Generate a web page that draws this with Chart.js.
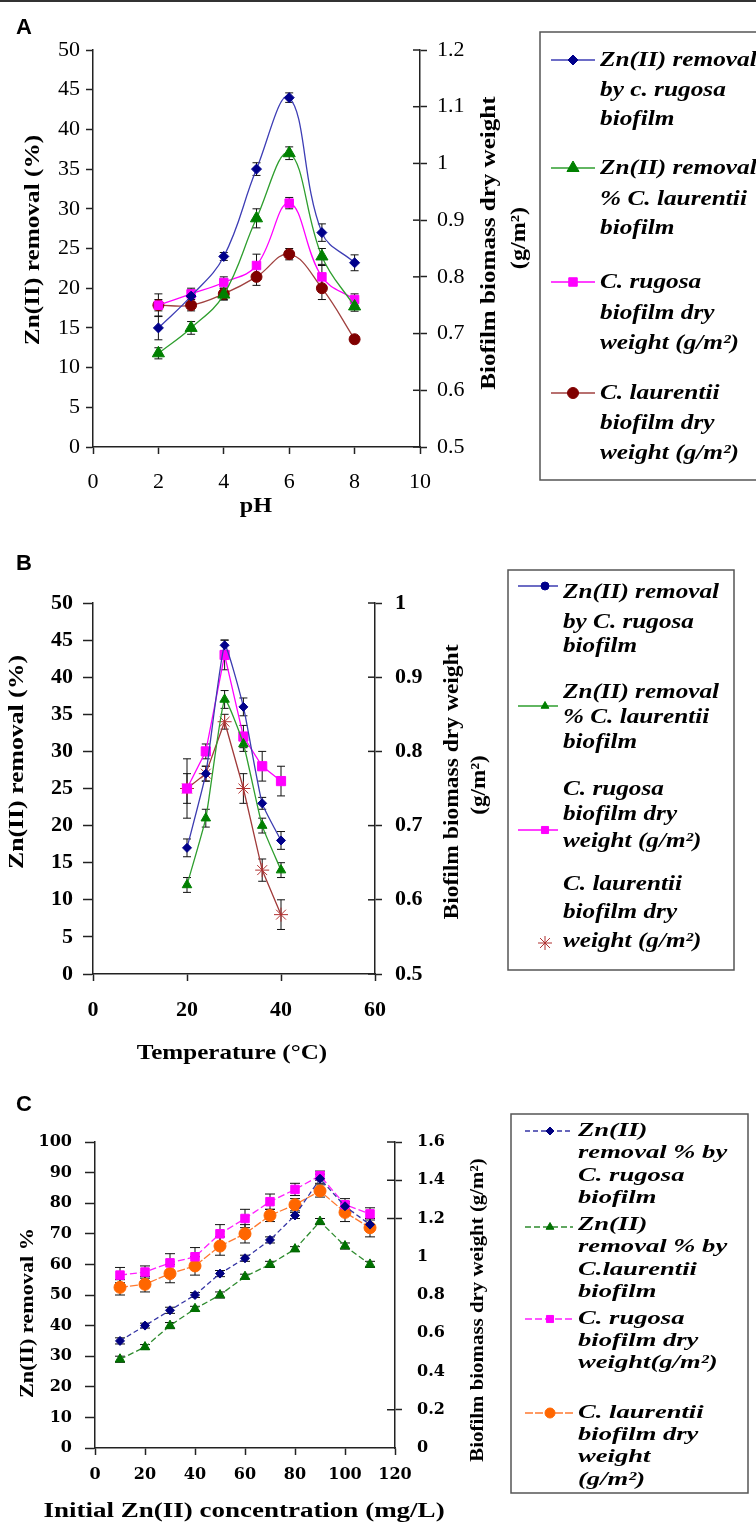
<!DOCTYPE html>
<html>
<head>
<meta charset="utf-8">
<script src="https://cdn.jsdelivr.net/npm/chart.js@4.4.0/dist/chart.umd.min.js"></script>
<style>
  html, body { margin: 0; padding: 0; background: #fff; }
  body { width: 756px; height: 1523px; position: relative; overflow: hidden; }
  #topline { position: absolute; left: 0; top: 0; width: 756px; height: 2px; background: #333; }
  .panel { position: absolute; left: 0; width: 756px; }
</style>
</head>
<body>
<div id="topline"></div>
<div class="panel" style="top:0"><canvas id="chartA" width="756" height="530"></canvas></div>
<div class="panel" style="top:530px"><canvas id="chartB" width="756" height="550"></canvas></div>
<div class="panel" style="top:1080px"><canvas id="chartC" width="756" height="443"></canvas></div>
<script>
// ---- Panel A : pH ----
const phValues = [2, 3, 4, 5, 6, 7, 8];
const phRugosaRemoval = [15, 19, 24, 35, 44, 27, 23.2];
const phRugosaRemovalErr = [1.5, 0.8, 0.5, 0.8, 0.6, 1.1, 1];
const phLaurentiiRemoval = [11.8, 15, 19.2, 28.8, 37, 24, 17.7];
const phLaurentiiRemovalErr = [0.7, 0.8, 0.7, 1.2, 0.8, 1, 0.6];
const phRugosaWeight = [0.75, 0.77, 0.79, 0.82, 0.93, 0.80, 0.76];
const phRugosaWeightErr = [0.01, 0.01, 0.01, 0.02, 0.01, 0.02, 0.01];
const phLaurentiiWeight = [0.75, 0.75, 0.77, 0.80, 0.84, 0.78, 0.69];
const phLaurentiiWeightErr = [0.02, 0.01, 0.01, 0.015, 0.01, 0.02, 0.005];
const phTicks = [0, 2, 4, 6, 8, 10];
const removalTicksA = [0, 5, 10, 15, 20, 25, 30, 35, 40, 45, 50];
const weightTicksA = [0.5, 0.6, 0.7, 0.8, 0.9, 1, 1.1, 1.2];
const legendA = [
  ['Zn(II) removal', 'by c. rugosa', 'biofilm'],
  ['Zn(II) removal', '% C. laurentii', 'biofilm'],
  ['C. rugosa', 'biofilm dry', 'weight (g/m²)'],
  ['C. laurentii', 'biofilm dry', 'weight (g/m²)']
];

// ---- Panel B : temperature ----
const tempValues = [20, 24, 28, 32, 36, 40];
const tempRugosaRemoval = [17, 27, 44.3, 36, 23, 18];
const tempRugosaRemovalErr = [1.2, 1, 0.7, 1.2, 0.8, 1.2];
const tempLaurentiiRemoval = [12, 21, 37, 31, 20, 14];
const tempLaurentiiRemovalErr = [1, 1.2, 1.2, 1, 1, 1];
const tempRugosaWeight = [0.75, 0.80, 0.93, 0.82, 0.78, 0.76];
const tempRugosaWeightErr = [0.04, 0.01, 0.02, 0.015, 0.02, 0.02];
const tempLaurentiiWeight = [0.75, 0.77, 0.84, 0.75, 0.64, 0.58];
const tempLaurentiiWeightErr = [0.02, 0.01, 0.01, 0.02, 0.015, 0.02];
const tempTicks = [0, 20, 40, 60];
const removalTicksB = [0, 5, 10, 15, 20, 25, 30, 35, 40, 45, 50];
const weightTicksB = [0.5, 0.6, 0.7, 0.8, 0.9, 1];
const legendB = [
  ['Zn(II) removal', 'by C. rugosa', 'biofilm'],
  ['Zn(II) removal', '% C. laurentii', 'biofilm'],
  ['C. rugosa', 'biofilm dry', 'weight (g/m²)'],
  ['C. laurentii', 'biofilm dry', 'weight (g/m²)']
];

// ---- Panel C : initial Zn(II) concentration ----
const concValues = [10, 20, 30, 40, 50, 60, 70, 80, 90, 100, 110];
const concRugosaRemoval = [35, 40, 45, 50, 57, 62, 68, 76, 88, 79, 73];
const concRugosaRemovalErr = [1, 0.8, 1, 0.8, 1, 1, 1, 1, 1.5, 1.5, 2];
const concLaurentiiRemoval = [29, 33, 40, 45.5, 50, 56, 60, 65, 74, 66, 60];
const concLaurentiiRemovalErr = [1, 0.8, 1, 0.8, 1, 0.8, 1, 0.8, 1, 1, 1];
const concRugosaWeight = [0.904, 0.92, 0.968, 1.0, 1.12, 1.2, 1.288, 1.352, 1.424, 1.272, 1.224];
const concRugosaWeightErr = [0.04, 0.032, 0.048, 0.048, 0.048, 0.048, 0.04, 0.032, 0.024, 0.032, 0.032];
const concLaurentiiWeight = [0.84, 0.856, 0.912, 0.952, 1.056, 1.12, 1.216, 1.272, 1.344, 1.232, 1.152];
const concLaurentiiWeightErr = [0.04, 0.04, 0.048, 0.048, 0.048, 0.048, 0.032, 0.032, 0.032, 0.048, 0.048];
const concTicks = [0, 20, 40, 60, 80, 100, 120];
const removalTicksC = [0, 10, 20, 30, 40, 50, 60, 70, 80, 90, 100];
const weightTicksC = [0, 0.2, 0.4, 0.6, 0.8, 1, 1.2, 1.4, 1.6];
const weightTickMarksC = [0.2, 1.2, 1.4, 1.6];   // only these carry a tick mark in the original
const legendC = [
  ['Zn(II)', 'removal % by', 'C. rugosa', 'biofilm'],
  ['Zn(II)', 'removal % by', 'C.laurentii', 'biofilm'],
  ['C. rugosa', 'biofilm dry', 'weight(g/m²)'],
  ['C. laurentii', 'biofilm dry', 'weight', '(g/m²)']
];

const serif = '"Liberation Serif", "Times New Roman", serif';
const axisColor = '#222';

// error bars drawn through the y scales
const errorBars = {
  id: 'errorBars',
  beforeDatasetsDraw(chart, args, o) {
    const ctx = chart.ctx;
    const cap = o.cap || 4;
    chart.data.datasets.forEach((ds, i) => {
      if (!ds.errors) return;
      const meta = chart.getDatasetMeta(i);
      const ys = chart.scales[ds.yAxisID];
      ctx.save();
      ctx.strokeStyle = '#111';
      ctx.lineWidth = 1;
      meta.data.forEach((pt, j) => {
        const e = ds.errors[j];
        if (!e) return;
        const v = ds.data[j].y;
        const top = ys.getPixelForValue(v + e);
        const bot = ys.getPixelForValue(v - e);
        ctx.beginPath();
        ctx.moveTo(pt.x, top); ctx.lineTo(pt.x, bot);
        ctx.moveTo(pt.x - cap, top); ctx.lineTo(pt.x + cap, top);
        ctx.moveTo(pt.x - cap, bot); ctx.lineTo(pt.x + cap, bot);
        ctx.stroke();
      });
      ctx.restore();
    });
  }
};

// right-hand axis tick marks cross the axis line in the original
const innerTicks = {
  id: 'innerTicks',
  afterDraw(chart, args, o) {
    const s = chart.scales.y1;
    if (!s || !o.length) return;
    const ctx = chart.ctx;
    ctx.save();
    ctx.strokeStyle = axisColor;
    ctx.lineWidth = 1.5;
    s.ticks.forEach(t => {
      if (o.only && !o.only.includes(Math.round(t.value * 100) / 100)) return;
      const y = s.getPixelForValue(t.value);
      ctx.beginPath();
      ctx.moveTo(s.left - o.length, y);
      ctx.lineTo(s.left, y);
      ctx.stroke();
    });
    ctx.restore();
  }
};

function drawText(ctx, text, x, y, font, sx, rot, align) {
  ctx.save();
  ctx.translate(x, y);
  if (rot) ctx.rotate(rot);
  ctx.scale(sx || 1, 1);
  ctx.font = font;
  ctx.fillStyle = '#000';
  ctx.textAlign = align || 'center';
  ctx.textBaseline = 'middle';
  ctx.fillText(text, 0, 0);
  ctx.restore();
}

// panel letter, axis titles and the boxed legend
const decor = {
  id: 'decor',
  afterDraw(chart, args, o) {
    const ctx = chart.ctx;
    (o.texts || []).forEach(t => drawText(ctx, t.text, t.x, t.y, t.font, t.sx, t.rot, t.align));
    const lg = o.legend;
    if (!lg) return;
    ctx.save();
    ctx.strokeStyle = '#555';
    ctx.lineWidth = 1.5;
    ctx.strokeRect(lg.box[0], lg.box[1], lg.box[2], lg.box[3]);
    ctx.restore();
    lg.items.forEach(it => {
      const ds = chart.data.datasets[it.ds];
      ctx.save();
      if (!it.noLine) {
        ctx.strokeStyle = ds.borderColor;
        ctx.lineWidth = ds.borderWidth;
        ctx.setLineDash(ds.borderDash || []);
        ctx.beginPath();
        ctx.moveTo(lg.x0, it.y);
        ctx.lineTo(lg.x1, it.y);
        ctx.stroke();
        ctx.setLineDash([]);
      }
      ctx.fillStyle = ds.pointBackgroundColor;
      ctx.strokeStyle = ds.pointBorderColor;
      ctx.lineWidth = 1;
      Chart.helpers.drawPoint(ctx, {
        pointStyle: it.style || ds.pointStyle,
        radius: it.r || ds.pointRadius,
        rotation: 0,
        borderWidth: 1
      }, it.mx || lg.mx, it.y);
      ctx.restore();
      ds.legendLines.forEach((line, k) => drawText(ctx, line, lg.textX, it.ty[k], lg.font, lg.sx, 0, 'left'));
    });
  }
};

function fmt(v) { return String(Math.round(v * 100) / 100); }

function axis(position, arr, o) {
  return {
    type: 'linear',
    position: position,
    min: arr[0],
    max: arr[arr.length - 1],
    afterBuildTicks: s => { s.ticks = arr.map(v => ({ value: v })); },
    afterFit: s => { if (position === 'bottom') s.height = o.size; else s.width = o.size; },
    border: { display: true, color: axisColor, width: 1.5 },
    grid: {
      drawOnChartArea: false, drawTicks: true, tickLength: o.tick, tickWidth: 1.5,
      tickColor: c => (!o.marks || (c.tick && o.marks.includes(Math.round(c.tick.value * 100) / 100))) ? axisColor : 'rgba(0,0,0,0)'
    },
    ticks: { color: '#000', padding: o.pad, font: o.font, callback: v => fmt(v), maxRotation: 0, autoSkip: false }
  };
}

function series(label, xs, ys, errs, axisId, legendLines, style) {
  return Object.assign({
    label: label,
    data: xs.map((x, i) => ({ x: x, y: ys[i] })),
    errors: errs,
    yAxisID: axisId,
    legendLines: legendLines,
    borderWidth: 1.3,
    pointBorderWidth: 1,
    fill: false
  }, style);
}

function baseOptions(padding, scales, decorOpts, cap, inner) {
  return {
    responsive: false,
    animation: false,
    layout: { padding: padding },
    scales: scales,
    plugins: {
      legend: { display: false },
      tooltip: { enabled: false },
      decor: decorOpts,
      errorBars: { cap: cap },
      innerTicks: inner
    }
  };
}

// ---------- Chart A ----------
const tickFontA = { family: serif, size: 22 };
new Chart(document.getElementById('chartA'), {
  type: 'line',
  data: {
    datasets: [
      series('Zn(II) removal by C. rugosa biofilm', phValues, phRugosaRemoval, phRugosaRemovalErr, 'y', legendA[0],
        { borderColor: '#3d3db5', pointBackgroundColor: '#00008b', pointBorderColor: '#00008b', pointStyle: 'rectRot', pointRadius: 5, tension: 0.4 }),
      series('Zn(II) removal % C. laurentii biofilm', phValues, phLaurentiiRemoval, phLaurentiiRemovalErr, 'y', legendA[1],
        { borderColor: '#2e9e2e', pointBackgroundColor: '#008000', pointBorderColor: '#008000', pointStyle: 'triangle', pointRadius: 7, tension: 0.4 }),
      series('C. rugosa biofilm dry weight', phValues, phRugosaWeight, phRugosaWeightErr, 'y1', legendA[2],
        { borderColor: '#ff00ff', pointBackgroundColor: '#ff00ff', pointBorderColor: '#ff00ff', pointStyle: 'rect', pointRadius: 6, tension: 0.4 }),
      series('C. laurentii biofilm dry weight', phValues, phLaurentiiWeight, phLaurentiiWeightErr, 'y1', legendA[3],
        { borderColor: '#a0413f', pointBackgroundColor: '#800000', pointBorderColor: '#800000', pointStyle: 'circle', pointRadius: 5.5, tension: 0.4 })
    ]
  },
  options: baseOptions(
    { top: 50, right: 276, bottom: 0, left: 0 },
    {
      x: axis('bottom', phTicks, { size: 83, tick: 7, pad: 15, font: tickFontA }),
      y: axis('left', removalTicksA, { size: 93, tick: 7, pad: 6, font: tickFontA }),
      y1: axis('right', weightTicksA, { size: 60, tick: 7, pad: 10, font: tickFontA })
    },
    {
      texts: [
        { text: 'A', x: 24, y: 28, font: 'bold 22px "Liberation Sans", Arial, sans-serif' },
        { text: 'Zn(II) removal (%)', x: 33, y: 240, rot: -Math.PI / 2, font: 'bold 22px ' + serif, sx: 1.15 },
        { text: 'pH', x: 256, y: 506, font: 'bold 22px ' + serif, sx: 1.1 },
        { text: 'Biofilm biomass dry weight', x: 489, y: 243, rot: -Math.PI / 2, font: 'bold 22px ' + serif, sx: 1.14 },
        { text: '(g/m²)', x: 519, y: 238, rot: -Math.PI / 2, font: 'bold 22px ' + serif, sx: 1.1 }
      ],
      legend: {
        box: [540, 32, 240, 448], x0: 551, x1: 595, mx: 573, textX: 600,
        font: 'italic bold 22px ' + serif, sx: 1.15,
        items: [
          { ds: 0, y: 60, ty: [60, 90, 119] },
          { ds: 1, y: 168, ty: [168, 199, 228] },
          { ds: 2, y: 282, ty: [282, 313, 343] },
          { ds: 3, y: 393, ty: [393, 423, 453] }
        ]
      }
    }, 4, { length: 7 }),
  plugins: [errorBars, innerTicks, decor]
});

// ---------- Chart B ----------
const tickFontB = { family: serif, size: 22, weight: 'bold' };
new Chart(document.getElementById('chartB'), {
  type: 'line',
  data: {
    datasets: [
      series('Zn(II) removal by C. rugosa biofilm', tempValues, tempRugosaRemoval, tempRugosaRemovalErr, 'y', legendB[0],
        { borderColor: '#3b3bb0', pointBackgroundColor: '#00008b', pointBorderColor: '#00008b', pointStyle: 'rectRot', pointRadius: 4.5, tension: 0.15 }),
      series('Zn(II) removal % C. laurentii biofilm', tempValues, tempLaurentiiRemoval, tempLaurentiiRemovalErr, 'y', legendB[1],
        { borderColor: '#2e9e2e', pointBackgroundColor: '#008000', pointBorderColor: '#008000', pointStyle: 'triangle', pointRadius: 5.5, tension: 0.15 }),
      series('C. rugosa biofilm dry weight', tempValues, tempRugosaWeight, tempRugosaWeightErr, 'y1', legendB[2],
        { borderColor: '#ff00ff', pointBackgroundColor: '#ff00ff', pointBorderColor: '#ff00ff', pointStyle: 'rect', pointRadius: 6.5, tension: 0 }),
      series('C. laurentii biofilm dry weight', tempValues, tempLaurentiiWeight, tempLaurentiiWeightErr, 'y1', legendB[3],
        { borderColor: '#a03a3a', pointBackgroundColor: 'rgba(0,0,0,0)', pointBorderColor: '#b03030', pointStyle: 'star', pointRadius: 7, tension: 0 })
    ]
  },
  options: baseOptions(
    { top: 73, right: 321, bottom: 0, left: 0 },
    {
      x: axis('bottom', tempTicks, { size: 106, tick: 7, pad: 16, font: tickFontB }),
      y: axis('left', removalTicksB, { size: 93, tick: 10, pad: 10, font: tickFontB }),
      y1: axis('right', weightTicksB, { size: 60, tick: 7, pad: 13, font: tickFontB })
    },
    {
      texts: [
        { text: 'B', x: 24, y: 34, font: 'bold 22px "Liberation Sans", Arial, sans-serif' },
        { text: 'Zn(II) removal (%)', x: 17, y: 232, rot: -Math.PI / 2, font: 'bold 22px ' + serif, sx: 1.17 },
        { text: 'Temperature (°C)', x: 232, y: 523, font: 'bold 22px ' + serif, sx: 1.14 },
        { text: 'Biofilm biomass dry weight', x: 453, y: 252, rot: -Math.PI / 2, font: 'bold 21px ' + serif, sx: 1.12 },
        { text: '(g/m²)', x: 480, y: 255, rot: -Math.PI / 2, font: 'bold 21px ' + serif, sx: 1.1 }
      ],
      legend: {
        box: [508, 40, 226, 400], x0: 518, x1: 558, mx: 545, textX: 563,
        font: 'italic bold 21px ' + serif, sx: 1.2,
        items: [
          { ds: 0, y: 56, ty: [63, 93, 117], style: 'circle', r: 4 },
          { ds: 1, y: 176, ty: [163, 188, 213], r: 4.5 },
          { ds: 2, y: 300, ty: [260, 285, 312], r: 5 },
          { ds: 3, y: 413, noLine: true, ty: [355, 383, 412], r: 7 }
        ]
      }
    }, 4, { length: 7 }),
  plugins: [errorBars, innerTicks, decor]
});

// ---------- Chart C ----------
const tickFontC = { family: '"DejaVu Serif", serif', size: 16, weight: 'bold' };
new Chart(document.getElementById('chartC'), {
  type: 'line',
  data: {
    datasets: [
      series('Zn(II) removal % by C. rugosa biofilm', concValues, concRugosaRemoval, concRugosaRemovalErr, 'y', legendC[0],
        { borderColor: '#3535a5', borderDash: [5, 3], pointBackgroundColor: '#000080', pointBorderColor: '#000080', pointStyle: 'rectRot', pointRadius: 4.5, tension: 0 }),
      series('Zn(II) removal % by C. laurentii biofilm', concValues, concLaurentiiRemoval, concLaurentiiRemovalErr, 'y', legendC[1],
        { borderColor: '#2e8b2e', borderDash: [6, 3], pointBackgroundColor: '#007000', pointBorderColor: '#007000', pointStyle: 'triangle', pointRadius: 5.5, tension: 0 }),
      series('C. rugosa biofilm dry weight', concValues, concRugosaWeight, concRugosaWeightErr, 'y1', legendC[2],
        { borderColor: '#ff20ff', borderDash: [7, 3], pointBackgroundColor: '#ff00ff', pointBorderColor: '#ff00ff', pointStyle: 'rect', pointRadius: 6, tension: 0 }),
      series('C. laurentii biofilm dry weight', concValues, concLaurentiiWeight, concLaurentiiWeightErr, 'y1', legendC[3],
        { borderColor: '#ff7a30', borderDash: [8, 2], pointBackgroundColor: '#ff6600', pointBorderColor: '#ff6600', pointStyle: 'circle', pointRadius: 6, tension: 0 })
    ]
  },
  options: baseOptions(
    { top: 62, right: 301, bottom: 0, left: 0 },
    {
      x: axis('bottom', concTicks, { size: 75, tick: 7, pad: 10, font: tickFontC }),
      y: axis('left', removalTicksC, { size: 95, tick: 10, pad: 13, font: tickFontC }),
      y1: axis('right', weightTicksC, { size: 60, tick: 7, pad: 15, font: tickFontC, marks: weightTickMarksC })
    },
    {
      texts: [
        { text: 'C', x: 24, y: 25, font: 'bold 22px "Liberation Sans", Arial, sans-serif' },
        { text: 'Zn(II) removal %', x: 28, y: 233, rot: -Math.PI / 2, font: 'bold 19px ' + serif, sx: 1.17 },
        { text: 'Initial Zn(II) concentration (mg/L)', x: 244, y: 432, font: 'bold 20px ' + serif, sx: 1.35 },
        { text: 'Biofilm biomass dry weight (g/m²)', x: 478, y: 230, rot: -Math.PI / 2, font: 'bold 19px ' + serif, sx: 1.1 }
      ],
      legend: {
        box: [511, 34, 237, 379], x0: 525, x1: 573, mx: 550, textX: 578,
        font: 'italic bold 19px ' + serif, sx: 1.4,
        items: [
          { ds: 0, y: 51, ty: [51, 73, 96, 118], r: 4 },
          { ds: 1, y: 147, ty: [145, 167, 190, 212], r: 4.5 },
          { ds: 2, y: 239, ty: [239, 261, 283], r: 5 },
          { ds: 3, y: 333, ty: [333, 355, 377, 400], r: 5 }
        ]
      }
    }, 5, { length: 8, only: weightTickMarksC }),
  plugins: [errorBars, innerTicks, decor]
});
</script>
</body>
</html>
